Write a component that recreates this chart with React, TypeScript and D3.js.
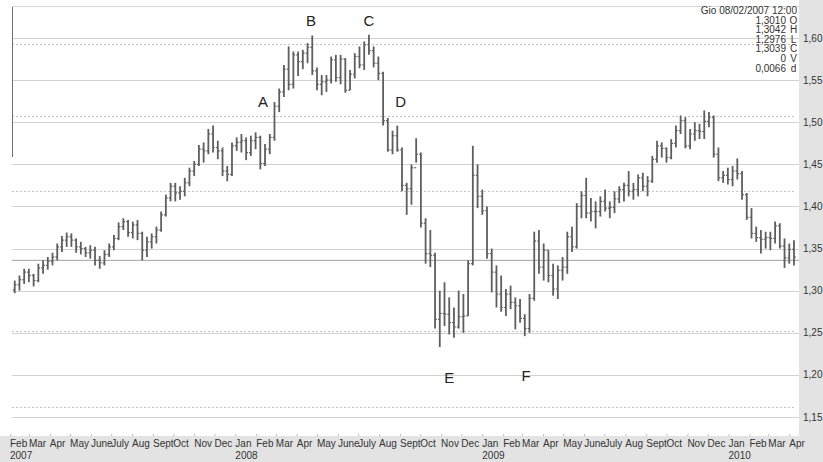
import * as d3 from "d3";

// weekly EUR/USD bars, first bar on Thu 08/02/2007, one bar every 7 days
const FIRST_BAR = "2007-02-08";
const FIRST_OPEN = 1.301;

const closes = [
  // 2007
  1.307, 1.313, 1.322,
  1.318, 1.312, 1.327, 1.330, 1.335,
  1.340, 1.352, 1.360, 1.364,
  1.360, 1.352, 1.350, 1.345,
  1.348, 1.336, 1.333, 1.343, 1.352,
  1.362, 1.376, 1.382, 1.369,
  1.378, 1.368, 1.348, 1.358, 1.364,
  1.372, 1.390, 1.410, 1.424,
  1.416, 1.418, 1.428, 1.442,
  1.450, 1.468, 1.466, 1.486, 1.470,
  1.466, 1.442, 1.438, 1.472,
  // 2008
  1.476, 1.478, 1.464, 1.478,
  1.482, 1.451, 1.468, 1.482, 1.519,
  1.536, 1.563, 1.545, 1.580,
  1.572, 1.582, 1.589, 1.561,
  1.545, 1.548, 1.550, 1.574, 1.553,
  1.575, 1.538, 1.557, 1.578,
  1.568, 1.592, 1.585, 1.570,
  1.558, 1.502, 1.467, 1.484, 1.467,
  1.425, 1.421, 1.446, 1.462,
  1.380, 1.344, 1.342, 1.266, 1.273,
  1.272, 1.262, 1.257, 1.269,
  1.270, 1.332, 1.437, 1.412,
  // 2009
  1.395, 1.344, 1.322, 1.296, 1.280,
  1.296, 1.286, 1.282, 1.267,
  1.255, 1.291, 1.359, 1.328,
  1.348, 1.318, 1.302, 1.324,
  1.328, 1.364, 1.352, 1.400, 1.413,
  1.392, 1.394, 1.394, 1.406,
  1.398, 1.399, 1.409, 1.420, 1.425,
  1.418, 1.420, 1.434, 1.424,
  1.430, 1.456, 1.472, 1.469,
  1.458, 1.475, 1.490, 1.502, 1.472,
  1.486, 1.490, 1.489, 1.501,
  1.506, 1.462, 1.434, 1.437,
  // 2010
  1.432, 1.442, 1.439, 1.414, 1.387,
  1.368, 1.363, 1.361, 1.363,
  1.362, 1.377, 1.353, 1.339,
  1.349, 1.340,
];

const highs = [
  1.312, 1.318, 1.326,
  1.326, 1.320, 1.332, 1.336, 1.340,
  1.345, 1.356, 1.365, 1.369,
  1.368, 1.362, 1.358, 1.352,
  1.354, 1.352, 1.341, 1.348, 1.356,
  1.366, 1.381, 1.386, 1.384,
  1.382, 1.384, 1.370, 1.364, 1.368,
  1.376, 1.394, 1.414, 1.428,
  1.428, 1.424, 1.434, 1.446,
  1.454, 1.473, 1.476, 1.492, 1.496,
  1.478, 1.470, 1.448, 1.476,
  1.482, 1.486, 1.482, 1.484,
  1.488, 1.484, 1.474, 1.486, 1.524,
  1.540, 1.568, 1.590, 1.584,
  1.584, 1.586, 1.594, 1.603,
  1.565, 1.556, 1.556, 1.578, 1.580,
  1.580, 1.576, 1.562, 1.582,
  1.590, 1.596, 1.604, 1.590,
  1.578, 1.560, 1.505, 1.490, 1.496,
  1.470, 1.428, 1.450, 1.481,
  1.464, 1.386, 1.372, 1.345, 1.300,
  1.310, 1.292, 1.280, 1.300,
  1.296, 1.336, 1.472, 1.450,
  1.420, 1.400, 1.350, 1.330, 1.318,
  1.302, 1.306, 1.292, 1.290,
  1.272, 1.296, 1.370, 1.372,
  1.356, 1.348, 1.332, 1.330,
  1.340, 1.370, 1.376, 1.404, 1.418,
  1.434, 1.410, 1.406, 1.412,
  1.420, 1.406, 1.418, 1.424, 1.428,
  1.442, 1.428, 1.438, 1.440,
  1.436, 1.460, 1.478, 1.476,
  1.470, 1.480, 1.496, 1.508, 1.506,
  1.492, 1.500, 1.498, 1.514,
  1.512, 1.508, 1.470, 1.442,
  1.446, 1.448, 1.457, 1.442, 1.416,
  1.398, 1.376, 1.372, 1.370,
  1.370, 1.382, 1.380, 1.362,
  1.356, 1.360,
];

const lows = [
  1.297, 1.300, 1.308,
  1.310, 1.305, 1.310, 1.320, 1.325,
  1.330, 1.336, 1.346, 1.352,
  1.352, 1.345, 1.343, 1.340,
  1.338, 1.330, 1.326, 1.330, 1.340,
  1.348, 1.360, 1.372, 1.364,
  1.362, 1.360, 1.336, 1.340, 1.350,
  1.356, 1.370, 1.388, 1.406,
  1.406, 1.408, 1.412, 1.424,
  1.436, 1.448, 1.452, 1.462, 1.464,
  1.456, 1.436, 1.430, 1.436,
  1.466, 1.464, 1.455, 1.460,
  1.468, 1.444, 1.448, 1.462, 1.478,
  1.512, 1.530, 1.538, 1.540,
  1.555, 1.563, 1.570, 1.556,
  1.538, 1.532, 1.536, 1.546, 1.548,
  1.545, 1.535, 1.538, 1.552,
  1.564, 1.562, 1.580, 1.565,
  1.550, 1.496, 1.465, 1.462, 1.465,
  1.418, 1.390, 1.402, 1.452,
  1.375, 1.332, 1.328, 1.255, 1.233,
  1.258, 1.248, 1.244, 1.255,
  1.250, 1.270, 1.330, 1.398,
  1.390, 1.338, 1.298, 1.280, 1.275,
  1.270, 1.278, 1.254, 1.262,
  1.246, 1.250, 1.288, 1.320,
  1.312, 1.310, 1.294, 1.290,
  1.312, 1.320, 1.346, 1.350, 1.386,
  1.386, 1.382, 1.374, 1.388,
  1.394, 1.386, 1.392, 1.404, 1.406,
  1.412, 1.408, 1.412, 1.418,
  1.412, 1.428, 1.452, 1.458,
  1.452, 1.456, 1.470, 1.486, 1.469,
  1.468, 1.478, 1.480, 1.480,
  1.494, 1.458, 1.430, 1.428,
  1.426, 1.424, 1.432, 1.408, 1.384,
  1.362, 1.358, 1.344, 1.350,
  1.348, 1.356, 1.350, 1.327,
  1.332, 1.330,
];

const priceTicks = [1.15, 1.2, 1.25, 1.3, 1.35, 1.4, 1.45, 1.5, 1.55, 1.6];
const dottedLevels = [1.162, 1.252, 1.418, 1.507, 1.593];
const lastLevel = 1.336;
const monthNames = ["Jan", "Feb", "Mar", "Apr", "May", "June", "July", "Aug", "Sept", "Oct", "Nov", "Dec"];

const markLabels = ["A", "B", "C", "D", "E", "F"];
const markDates = ["2008-02-11", "2008-04-22", "2008-07-17", "2008-09-02", "2008-11-13", "2009-03-07"];
const markPrices = [1.525, 1.621, 1.621, 1.525, 1.197, 1.199];

const infoTitle = "Gio 08/02/2007 12:00";
const infoValues = ["1,3010", "1,3042", "1,2976", "1,3039", "0", "0,0066"];
const infoKeys = ["O", "H", "L", "C", "V", "d"];

const W = 823;
const H = 462;
const plotRight = 799;
const plotBottom = 436;
const FONT = "'Liberation Sans', Arial, sans-serif";
const INK = "#333";

const parse = d3.utcParse("%Y-%m-%d");

export default function App() {
  const x = d3
    .scaleUtc()
    .domain([new Date(Date.UTC(2007, 1, 1)), new Date(Date.UTC(2010, 4, 1))])
    .range([10, 809.5]);
  const y = d3.scaleLinear().domain([1.15, 1.6]).range([417, 38]);

  const first = parse(FIRST_BAR)!;
  const bars = closes.map((c, i) => ({
    date: d3.utcDay.offset(first, i * 7),
    open: i === 0 ? FIRST_OPEN : closes[i - 1],
    high: highs[i],
    low: lows[i],
    close: c,
  }));

  const months = d3.utcMonth.range(new Date(Date.UTC(2007, 1, 1)), new Date(Date.UTC(2010, 4, 1)));
  const fmt = (v: number) => d3.format(".2f")(v).replace(".", ",");

  return (
    <svg
      width={W}
      height={H}
      style={{ position: "absolute", left: 0, top: 0, fontFamily: FONT }}
    >
      <rect x={0} y={0} width={W} height={H} fill="#e3e3e3" />
      <rect x={0} y={0} width={plotRight} height={plotBottom} fill="#ffffff" />

      {/* grid */}
      <line x1={12} x2={plotRight} y1={6.5} y2={6.5} stroke="#d8d8d8" />
      {priceTicks.map((p) => (
        <line key={p} x1={12} x2={plotRight} y1={Math.round(y(p)) + 0.5} y2={Math.round(y(p)) + 0.5} stroke="#d2d2d2" />
      ))}
      {dottedLevels.map((p) => (
        <line
          key={p}
          x1={12}
          x2={plotRight - 5}
          y1={Math.round(y(p)) + 0.5}
          y2={Math.round(y(p)) + 0.5}
          stroke="#c4c4c4"
          strokeDasharray="2,2"
        />
      ))}
      <line x1={12} x2={plotRight} y1={y(lastLevel)} y2={y(lastLevel)} stroke="#a0a0a0" />
      <line x1={12.5} x2={12.5} y1={7} y2={157} stroke="#6e6e6e" />

      {/* OHLC bars */}
      {bars.map((b, i) => {
        const cx = x(b.date);
        return (
          <g key={i} stroke="#5e5e5e">
            <line x1={cx} x2={cx} y1={y(b.high)} y2={y(b.low)} strokeWidth={1.8} />
            <line x1={cx - 1.8} x2={cx} y1={y(b.open)} y2={y(b.open)} strokeWidth={1.2} />
            <line x1={cx} x2={cx + 1.8} y1={y(b.close)} y2={y(b.close)} strokeWidth={1.2} />
          </g>
        );
      })}

      {/* annotations */}
      {markLabels.map((m, i) => (
        <text
          key={m}
          x={x(parse(markDates[i])!)}
          y={y(markPrices[i])}
          textAnchor="middle"
          dominantBaseline="central"
          fontSize={15}
          fill="#222"
        >
          {m}
        </text>
      ))}

      {/* info box */}
      <text x={797} y={14} textAnchor="end" fontSize={10} fill={INK}>
        {infoTitle}
      </text>
      {infoValues.map((v, i) => (
        <g key={i} fontSize={10} fill={INK}>
          <text x={786} y={23.5 + i * 9.6} textAnchor="end">
            {v}
          </text>
          <text x={793.5} y={23.5 + i * 9.6} textAnchor="middle">
            {infoKeys[i]}
          </text>
        </g>
      ))}

      {/* price axis */}
      {priceTicks.map((p) => (
        <text key={p} x={803} y={y(p)} dominantBaseline="central" fontSize={10} fill={INK}>
          {fmt(p)}
        </text>
      ))}

      {/* time axis */}
      {months.map((m, i) => (
        <g key={i} transform={`translate(${x(m)},0)`}>
          <line x1={0.5} x2={0.5} y1={plotBottom - 2} y2={plotBottom} stroke="#bbb" />
          <text x={0} y={447} fontSize={10} fill={INK}>
            {monthNames[m.getUTCMonth()]}
          </text>
          {(i === 0 || m.getUTCMonth() === 0) && (
            <text x={0} y={459} fontSize={10} fill={INK}>
              {m.getUTCFullYear()}
            </text>
          )}
        </g>
      ))}
    </svg>
  );
}
